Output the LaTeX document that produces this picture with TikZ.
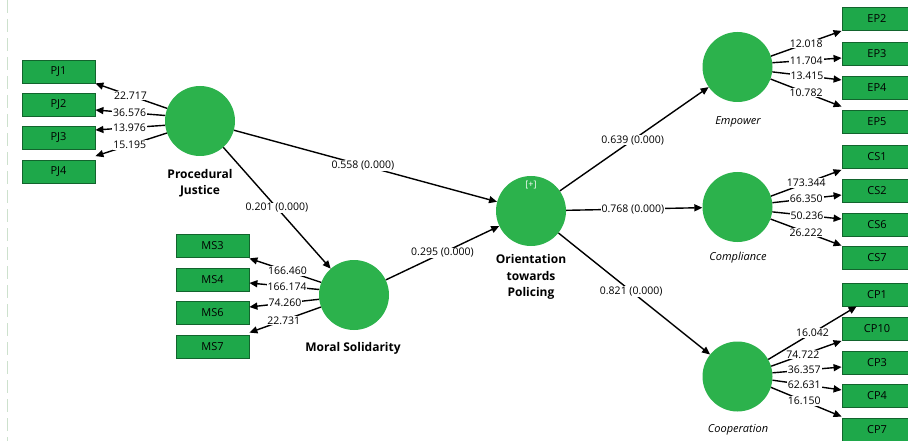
\documentclass[tikz,border=0pt]{standalone}
\usepackage{fontspec}
\setmainfont{Open Sans}
\usetikzlibrary{arrows.meta,calc}
\definecolor{circg}{RGB}{44,178,76}
\definecolor{boxg}{RGB}{30,168,74}
\definecolor{boxd}{RGB}{18,100,45}
\definecolor{faint}{RGB}{205,225,205}
\tikzset{
 lv/.style={circle, fill=circg, minimum size=70pt, inner sep=0pt},
 ind/.style={rectangle, fill=boxg, draw=boxd, line width=0.8pt, minimum width=73pt, minimum height=23pt, inner sep=0pt, font=\fontsize{11}{12}\selectfont},
 indr/.style={ind, minimum width=70pt},
 conn/.style={draw=black, line width=1.4pt, -{Triangle[length=8pt,width=7pt]}},
 lab/.style={fill=white, inner sep=0.8pt, font=\fontsize{10.5}{12}\selectfont},
 lvname/.style={font=\bfseries\fontsize{12}{16.5}\selectfont, align=center},
 lvit/.style={font=\itshape\fontsize{11}{13}\selectfont},
}
\begin{document}
\begin{tikzpicture}[x=1pt,y=-1pt]
\useasboundingbox (0,0) rectangle (908,441);
\draw[faint, line width=0.8pt, dash pattern=on 13pt off 6pt] (7,0) -- (7,441);

% latent variables
\node[lv] (PJ) at (200,121) {};
\node[lv] (MS) at (354,295) {};
\node[lv] (OR) at (531,211) {};
\node[lv] (EMP) at (737.5,67) {};
\node[lv] (COM) at (737.5,207) {};
\node[lv] (COOP) at (737.5,376.5) {};
\node[text=white, font=\fontsize{9}{10}\selectfont] (plus) at (531,185) {[+]};

\node[lvname] (PJn) at (200,183) {Procedural\\Justice};
\node[lvname] (MSn) at (353,348) {Moral Solidarity};
\node[lvname] (ORn) at (531,277) {Orientation\\towards\\Policing};
\node[lvit] (EMPn) at (738,122) {Empower};
\node[lvit] (COMn) at (738,258) {Compliance};
\node[lvit] (COOPn) at (738,430) {Cooperation};

% indicators left
\node[ind] (PJ1) at (58.5,71.5) {PJ1};
\node[ind] (PJ2) at (58.5,104.5) {PJ2};
\node[ind] (PJ3) at (58.5,138) {PJ3};
\node[ind] (PJ4) at (58.5,172) {PJ4};
\node[ind] (MS3) at (212.5,245.5) {MS3};
\node[ind] (MS4) at (212.5,279.5) {MS4};
\node[ind] (MS6) at (212.5,312.5) {MS6};
\node[ind] (MS7) at (212.5,346.5) {MS7};

% indicators right
\node[indr] (EP2) at (877,19) {EP2};
\node[indr] (EP3) at (877,53.5) {EP3};
\node[indr] (EP4) at (877,87.5) {EP4};
\node[indr] (EP5) at (877,121.5) {EP5};
\node[indr] (CS1) at (877,156.5) {CS1};
\node[indr] (CS2) at (877,191) {CS2};
\node[indr] (CS6) at (877,224.5) {CS6};
\node[indr] (CS7) at (877,258) {CS7};
\node[indr] (CP1) at (877,294.5) {CP1};
\node[indr] (CP10) at (877,329) {CP10};
\node[indr] (CP3) at (877,362.5) {CP3};
\node[indr] (CP4) at (877,396) {CP4};
\node[indr] (CP7) at (877,429.5) {CP7};

% structural paths
\draw[conn] (PJ) -- node[lab,pos=0.49]{0.558 (0.000)} (OR);
\draw[conn] (PJ) -- node[lab,pos=0.5]{0.201 (0.000)} (MS);
\draw[conn] (MS) -- node[lab,pos=0.5]{0.295 (0.000)} (OR);
\draw[conn] (OR) -- node[lab,pos=0.49]{0.639 (0.000)} (EMP);
\draw[conn] (OR) -- node[lab,pos=0.49]{0.768 (0.000)} (COM);
\draw[conn] (OR) -- node[lab,pos=0.48]{0.821 (0.000)} (COOP);

% outer loadings left
\draw[conn] (PJ.159) -- node[lab,pos=0.51]{22.717} (PJ1.south east);
\draw[conn] (PJ.171) -- node[lab,pos=0.51]{36.576} ($(PJ2.east)+(0,5.5)$);
\draw[conn] (PJ.187) -- node[lab,pos=0.51]{13.976} ($(PJ3.east)+(0,-8)$);
\draw[conn] (PJ.200) -- node[lab,pos=0.52]{15.195} ($(PJ4.north east)+(0,-4)$);

\draw[conn] (MS.159) -- node[lab,pos=0.47]{166.460} ($(MS3.south east)+(0,1)$);
\draw[conn] (MS.171) -- node[lab,pos=0.46]{166.174} ($(MS4.east)+(0,3.5)$);
\draw[conn] (MS.187) -- node[lab,pos=0.49]{74.260} ($(MS6.east)+(0,-5.5)$);
\draw[conn] (MS.200) -- node[lab,pos=0.52]{22.731} ($(MS7.north east)+(0,-2)$);

% outer loadings right
\draw[conn] (EMP.18) -- node[lab,pos=0.5]{12.018} (EP2.south west);
\draw[conn] (EMP.7) -- node[lab,pos=0.49]{11.704} ($(EP3.west)+(0,4.5)$);
\draw[conn] (EMP.-8) -- node[lab,pos=0.5]{13.415} ($(EP4.west)+(0,-7.5)$);
\draw[conn] (EMP.-20) -- node[lab,pos=0.5]{10.782} ($(EP5.north west)+(0,-3)$);

\draw[conn] (COM.18) -- node[lab,pos=0.5]{173.344} ($(CS1.south west)+(0,1.5)$);
\draw[conn] (COM.7) -- node[lab,pos=0.49]{66.350} ($(CS2.west)+(0,4)$);
\draw[conn] (COM.-8) -- node[lab,pos=0.5]{50.236} ($(CS6.west)+(0,-5.5)$);
\draw[conn] (COM.-20) -- node[lab,pos=0.5]{26.222} ($(CS7.north west)+(0,-0.5)$);

\draw[conn] (COOP.29) -- node[lab,pos=0.5]{16.042} ($(CP1.south west)+(15,0)$);
\draw[conn] (COOP.17) -- node[lab,pos=0.45]{74.722} (CP10.south west);
\draw[conn] (COOP.6) -- node[lab,pos=0.46]{36.357} ($(CP3.west)+(0,4.5)$);
\draw[conn] (COOP.-6) -- node[lab,pos=0.46]{62.631} ($(CP4.west)+(0,-6)$);
\draw[conn] (COOP.-18) -- node[lab,pos=0.47]{16.150} ($(CP7.north west)+(0,-1)$);
\end{tikzpicture}
\end{document}
